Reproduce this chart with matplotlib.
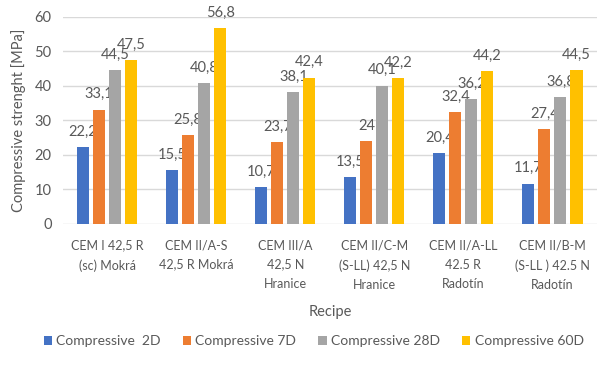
import matplotlib
matplotlib.use("Agg")
import matplotlib.pyplot as plt
import numpy as np

plt.rcParams["font.family"] = ["Lato", "DejaVu Sans"]

TEXT = "#595959"
GRID = "#D9D9D9"

recipes = [
    "CEM I 42,5 R\n(sc) Mokrá",
    "CEM II/A-S\n42,5 R Mokrá",
    "CEM III/A\n42,5 N\nHranice",
    "CEM II/C-M\n(S-LL) 42,5 N\nHranice",
    "CEM II/A-LL\n42.5 R\nRadotín",
    "CEM II/B-M\n(S-LL ) 42.5 N\nRadotín",
]
series_names = ["Compressive  2D", "Compressive 7D", "Compressive 28D", "Compressive 60D"]
colors = ["#4472C4", "#ED7D31", "#A5A5A5", "#FFC000"]

d2 = [22.2, 15.5, 10.7, 13.5, 20.4, 11.7]
d7 = [33.1, 25.8, 23.7, 24.0, 32.4, 27.4]
d28 = [44.5, 40.8, 38.1, 40.1, 36.2, 36.8]
d60 = [47.5, 56.8, 42.4, 42.2, 44.2, 44.5]

fig = plt.figure(figsize=(6.03, 3.67), dpi=100)
ax = fig.add_axes([0.104, 0.39, 0.886, 0.564])

x = np.arange(len(recipes))
step, width = 0.18, 0.135
for i, (vals, name, col) in enumerate(zip([d2, d7, d28, d60], series_names, colors)):
    pos = x + (i - 1.5) * step
    bars = ax.bar(pos, vals, width=width, color=col, label=name, zorder=3)
    for b, v in zip(bars, vals):
        txt = f"{v:g}".replace(".", ",")
        ax.annotate(txt, (b.get_x() + b.get_width() / 2, v), xytext=(0, 6),
                    textcoords="offset points", ha="center", va="bottom",
                    fontsize=10.5, color=TEXT)

ax.set_xlim(-0.5, len(recipes) - 0.5)
ax.set_ylim(0, 60)
ax.set_yticks(range(0, 61, 10))
ax.yaxis.grid(True, color=GRID, lw=1, zorder=0)
for s in ax.spines.values():
    s.set_visible(False)
ax.tick_params(length=0, colors=TEXT, labelsize=10.5)
ax.tick_params(axis="y", pad=8)
ax.tick_params(axis="x", pad=11)
ax.set_xticks(x)
ax.set_xticklabels(recipes, fontsize=9, color=TEXT, linespacing=1.75)
ax.set_ylabel("Compressive strenght [MPa]", fontsize=10.5, color=TEXT, labelpad=6)
ax.set_xlabel("Recipe", fontsize=10.5, color=TEXT, labelpad=10)

fig.legend(loc="lower center", bbox_to_anchor=(0.52, 0.02), ncol=4, frameon=False,
           fontsize=10, labelcolor=TEXT, handlelength=0.6, handleheight=0.6,
           handletextpad=0.3, columnspacing=1.6)

fig.savefig("out.png", dpi=100, facecolor="white")
